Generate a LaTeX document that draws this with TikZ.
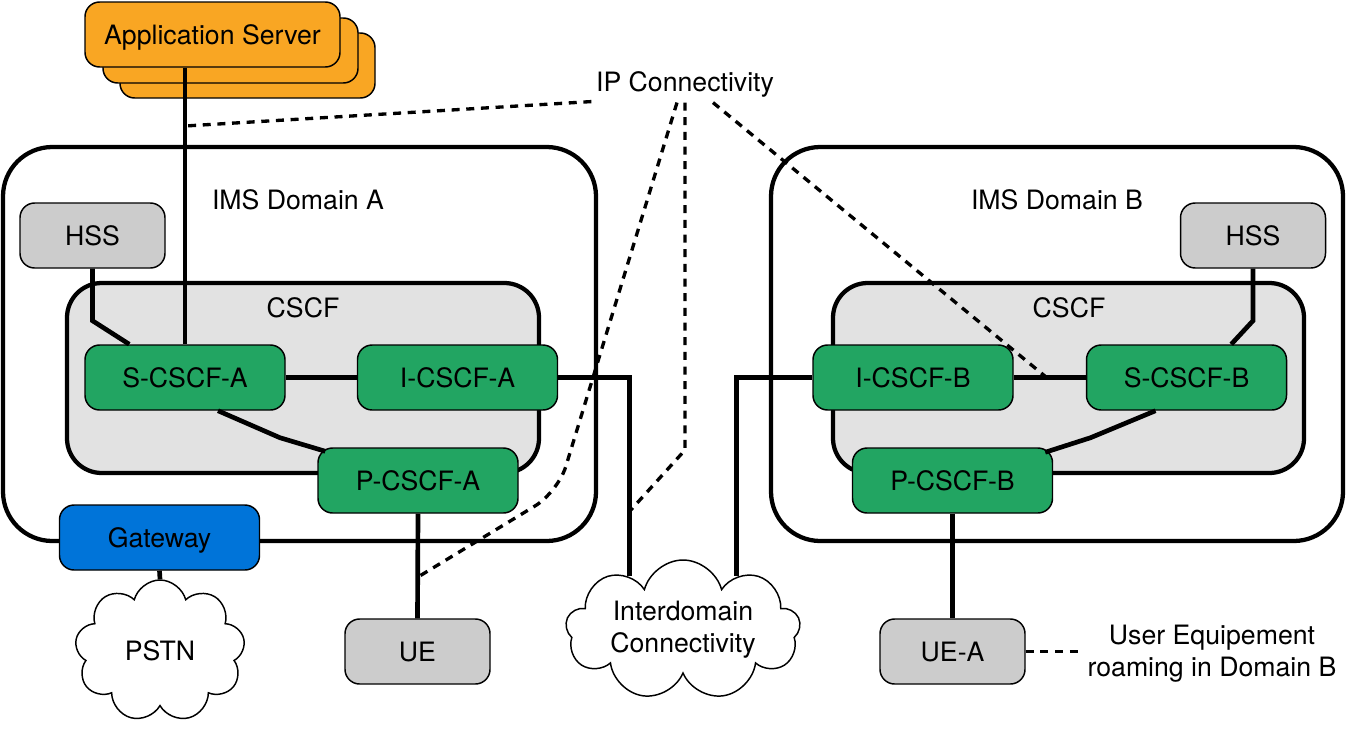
\documentclass[tikz,border=0pt]{standalone}
\usepackage{fontspec}
\setmainfont{TeX Gyre Heros}
\usetikzlibrary{calc,shapes.symbols}
\definecolor{asOrange}{RGB}{249,166,35}
\definecolor{cscfGreen}{RGB}{34,165,98}
\definecolor{gwBlue}{RGB}{0,116,217}
\definecolor{boxGray}{RGB}{204,204,204}
\definecolor{cscfFill}{RGB}{226,226,226}

\begin{document}
\begin{tikzpicture}[x=0.75pt,y=-0.75pt,
    font=\fontsize{20}{24}\selectfont,
    unit/.style={draw, line width=1.1pt, rounded corners=11pt, minimum width=150pt,
      minimum height=48.75pt, inner sep=0pt, text depth=0pt},
    cscf/.style={unit, fill=cscfGreen},
    grey/.style={unit, fill=boxGray, minimum width=108.75pt},
    imsdomain/.style={draw, line width=3.2pt, rounded corners=37pt},
    cscfarea/.style={draw, line width=3.2pt, rounded corners=26pt, fill=cscfFill},
    link/.style={line width=3.5pt},
    ipdash/.style={line width=2.5pt, dash pattern=on 6pt off 5pt},
    netcloud/.style={cloud, cloud puffs=9, cloud ignores aspect, draw, line width=1.1pt,
      fill=white, inner sep=0pt, align=center}]
    \useasboundingbox (0,0) rectangle (1348,728);
    % the two IMS domains
    \node[imsdomain, minimum width=444.75pt, minimum height=295.5pt] (domA) at (299.5,344) {};
    \node (domAlabel) at (298,200) {IMS Domain A};
    \node[imsdomain, minimum width=429pt, minimum height=295.5pt] (domB) at (1057,344) {};
    \node (domBlabel) at (1057,200) {IMS Domain B};
    % CSCF areas
    \node[cscfarea, minimum width=354pt, minimum height=142.5pt] (areaA) at (303,378) {};
    \node (areaAlabel) at (303,308) {CSCF};
    \node[cscfarea, minimum width=353.25pt, minimum height=142.5pt] (areaB) at (1068.5,378) {};
    \node (areaBlabel) at (1069,308) {CSCF};
    % application server stack
    \node[unit, fill=asOrange, minimum width=191.25pt] (asBack) at (247.5,65.5) {};
    \node[unit, fill=asOrange, minimum width=191.25pt] (asMid) at (230.5,50.5) {};
    \node[unit, fill=asOrange, minimum width=191.25pt] (asFront) at (212.5,34.5) {Application Server};
    % CSCF functions
    \node[cscf] (scscfA) at (185,377.5) {S-CSCF-A};
    \node[cscf] (icscfA) at (457.5,377.5) {I-CSCF-A};
    \node[cscf] (pcscfA) at (418,480.5) {P-CSCF-A};
    \node[cscf] (icscfB) at (913,377.5) {I-CSCF-B};
    \node[cscf] (scscfB) at (1186.5,377.5) {S-CSCF-B};
    \node[cscf] (pcscfB) at (952.5,480.5) {P-CSCF-B};
    % HSS, UE, gateway
    \node[grey] (hssA) at (92.5,235.5) {HSS};
    \node[grey] (hssB) at (1253,235.5) {HSS};
    \node[grey] (ueHome) at (417.5,651.5) {UE};
    \node[grey] (ueRoam) at (952.5,651.5) {UE-A};
    \node[unit, fill=gwBlue] (gw) at (159.5,537.5) {Gateway};
    % clouds
    \node[netcloud, minimum width=127.5pt, minimum height=106.5pt] (pstn) at (160,651) {PSTN};
    \node[netcloud, minimum width=176pt, minimum height=105pt] (inter) at (683,630)
      {Interdomain\\Connectivity};
    % free labels
    \node (ipc) at (685,84) {IP Connectivity};
    \node[align=center] (roam) at (1212,654) {User Equipement\\roaming in Domain B};
    % links
    \draw[link] (scscfA) -- (icscfA);
    \draw[link] (icscfB) -- (scscfB);
    \draw[link] (hssA.south) -- ++(0,52) -- ($(scscfA.north west)+(45,0)$);
    \draw[link] (hssB.south) -- ++(0,52) -- ($(scscfB.north east)+(-56,0)$);
    \draw[link] (scscfA.north |- asFront.south) -- (scscfA.north);
    \draw[link] ($(scscfA.south)+(33,0)$) -- ++(62,27) -- ($(pcscfA.north west)+(8,4)$);
    \draw[link] ($(scscfB.south)+(-31,0)$) -- ++(-65,27) -- ($(pcscfB.north east)+(-8,5)$);
    \draw[link] (pcscfA.south) -- (ueHome.north);
    \draw[link] (pcscfB.south) -- (ueRoam.north);
    \draw[link] (gw.south) -- (pstn.north);
    \draw[link] (icscfA.east) -- (icscfA.east -| inter.135) -- (inter.135);
    \draw[link] (icscfB.west) -- (icscfB.west -| inter.45) -- (inter.45);
    % IP connectivity taps
    \coordinate (asTap) at (185,126);
    \coordinate (bendUe) at (558,492);
    \coordinate (ueTap) at (418,577);
    \coordinate (bendInter) at (685,450);
    \coordinate (interTap) at (629,512);
    \coordinate (linkTap) at (1046,377);
    \draw[ipdash] (ipc.south west) -- (asTap);
    \draw[ipdash, rounded corners=20pt] ($(ipc.south)+(-8,1)$) -- (bendUe) -- (ueTap);
    \draw[ipdash] ($(ipc.south)+(0,1)$) -- (bendInter) -- (interTap);
    \draw[ipdash] ($(ipc.south)+(28,1)$) -- (linkTap);
    \draw[ipdash] (ueRoam.east) -- (ueRoam.east -| roam.west);
\end{tikzpicture}
\end{document}
